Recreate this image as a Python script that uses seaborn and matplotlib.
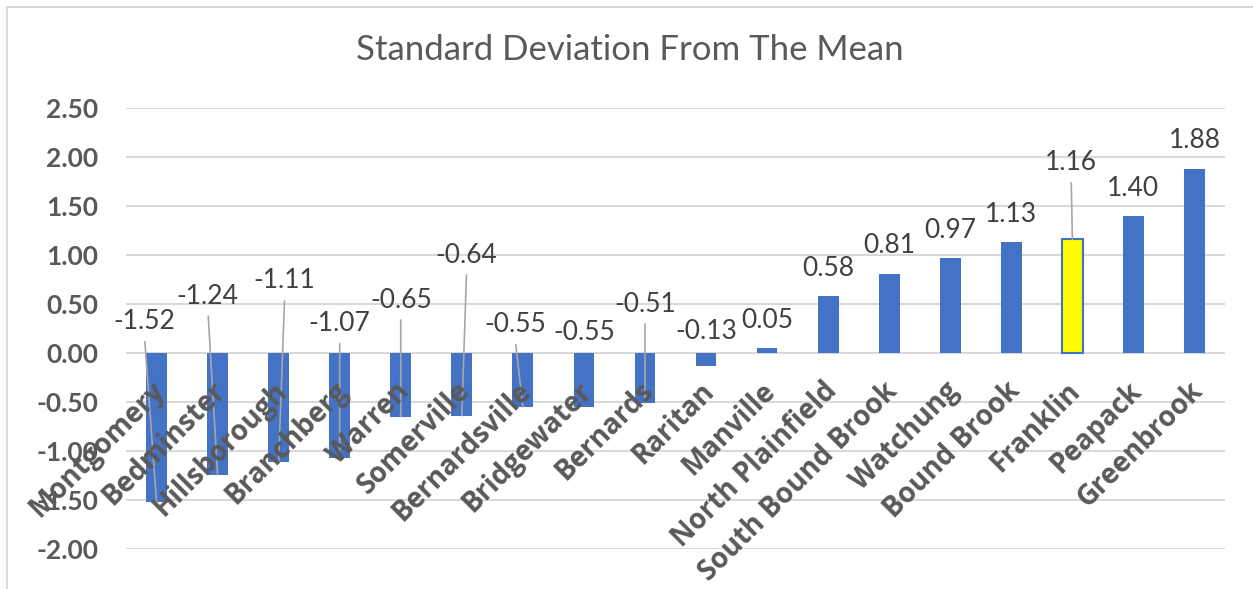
import matplotlib
matplotlib.use('Agg')
import matplotlib.pyplot as plt
import matplotlib.transforms as mtransforms
from matplotlib.patches import Rectangle
import seaborn as sns

# --- data ---
towns = ['Montgomery', 'Bedminster', 'Hillsborough', 'Branchberg', 'Warren',
         'Somerville', 'Bernardsville', 'Bridgewater', 'Bernards', 'Raritan',
         'Manville', 'North Plainfield', 'South Bound Brook', 'Watchung',
         'Bound Brook', 'Franklin', 'Peapack', 'Greenbrook']
std_dev = [-1.52, -1.24, -1.11, -1.07, -0.65, -0.64, -0.55, -0.55, -0.51, -0.13,
           0.05, 0.58, 0.81, 0.97, 1.13, 1.16, 1.40, 1.88]
highlight = 'Franklin'
y_ticks = [-2.0, -1.5, -1.0, -0.5, 0.0, 0.5, 1.0, 1.5, 2.0, 2.5]

# hand-moved data labels (Excel style): dx in category units, y in axis units
# None -> default position just above the bar
label_dx = [-0.2, -0.16, 0.1, 0.0, 0.0, 0.08, -0.13, 0.0, 0.0, 0.0,
            0, 0, 0, 0, 0, -0.02, 0, 0]
label_y = [0.32, 0.58, 0.735, 0.30, 0.54, 1.00, 0.29, 0.205, 0.50, 0.215,
           None, None, None, None, None, 1.94, None, None]
leader = [True, True, True, True, True, True, True, False, True, False,
          False, False, False, False, False, True, False, False]

BLUE = '#4472C4'
GRID = '#D9D9D9'
TXT = '#595959'
LBL = '#404040'

sns.set_style('white')
plt.rcParams['font.family'] = ['Lato', 'DejaVu Sans']

fig = plt.figure(figsize=(12.53, 5.89), dpi=100)
ax = fig.add_axes([126 / 1253, 1 - 549 / 589, 1099 / 1253, 441 / 589])

colors = ['yellow' if t == highlight else BLUE for t in towns]
sns.barplot(x=towns, y=std_dev, hue=towns, palette=colors, legend=False,
            width=0.34, saturation=1, ax=ax)

for bar, t in zip(ax.patches, towns):
    if t == highlight:
        bar.set_edgecolor(BLUE)
        bar.set_linewidth(1.5)
    else:
        bar.set_linewidth(0)

ax.set_ylim(-2.0, 2.5)
ax.set_xlim(-0.5, len(towns) - 0.5)
ax.set_yticks(y_ticks)
ax.set_yticklabels([f'{v:.2f}' for v in y_ticks], fontsize=19,
                   fontweight='bold', color=TXT)
ax.yaxis.grid(True, color=GRID, lw=1.5)
ax.set_axisbelow(True)
ax.tick_params(axis='y', length=0, pad=20)

# category axis crosses at zero, labels sit right under it and over the bars
ax.spines['bottom'].set_position(('data', 0))
for s in ax.spines.values():
    s.set_visible(False)
ax.xaxis.set_zorder(3)
ax.tick_params(axis='x', length=0, pad=17)
ax.set_xticks(range(len(towns)))
ax.set_xticklabels(towns, rotation=45, ha='right', va='top',
                   rotation_mode='anchor', fontsize=20, fontweight='bold',
                   color=TXT, family=['Open Sans', 'DejaVu Sans'])
shift = mtransforms.ScaledTranslation(-6 / 100, 0, fig.dpi_scale_trans)
for lab in ax.get_xticklabels():
    lab.set_transform(lab.get_transform() + shift)

# data labels
for i, v in enumerate(std_dev):
    txt = f'{v:.2f}'
    if label_y[i] is None:
        ax.annotate(txt, xy=(i, v), xytext=(0, 20), textcoords='offset points',
                    ha='center', va='center', fontsize=19, color=LBL)
    elif leader[i]:
        ax.annotate(txt, xy=(i, v), xytext=(i + label_dx[i], label_y[i]),
                    textcoords='data', ha='center', va='center', fontsize=19,
                    color=LBL,
                    arrowprops=dict(arrowstyle='-', color='#A6A6A6', lw=1.2,
                                    shrinkA=3, shrinkB=0, relpos=(0.5, 0)))
    else:
        ax.text(i + label_dx[i], label_y[i], txt, ha='center', va='center',
                fontsize=19, color=LBL)

ax.set_xlabel('')
ax.set_ylabel('')

fig.text(0.503, 0.915, 'Standard Deviation From The Mean', ha='center',
         va='center', fontsize=25, color=TXT)

# chart frame like Excel
fig.patches.append(Rectangle((7 / 1253, -0.05), 1.1, 1 - 7 / 589 + 0.05,
                             transform=fig.transFigure, fill=False,
                             edgecolor=GRID, lw=1.5))

fig.savefig('out.png', dpi=100)
